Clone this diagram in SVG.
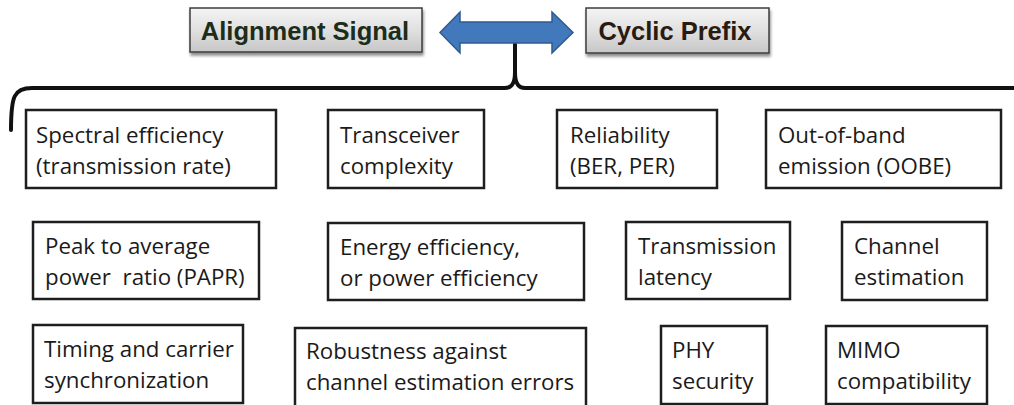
<svg xmlns="http://www.w3.org/2000/svg" width="1014" height="405" viewBox="0 0 1014 405">
  <defs>
    <linearGradient id="btnFill" x1="0" y1="0" x2="0" y2="1">
      <stop offset="0" stop-color="#f4f4f4"/>
      <stop offset="0.55" stop-color="#dedede"/>
      <stop offset="1" stop-color="#c6c6c6"/>
    </linearGradient>
    <filter id="dropShadow" x="-10%" y="-20%" width="125%" height="160%">
      <feGaussianBlur in="SourceAlpha" stdDeviation="1.6"/>
      <feOffset dx="1" dy="3" result="off"/>
      <feComponentTransfer><feFuncA type="linear" slope="0.45"/></feComponentTransfer>
      <feMerge><feMergeNode/><feMergeNode in="SourceGraphic"/></feMerge>
    </filter>
  </defs>
  <style>
    .box { fill: #ffffff; stroke: #1e1e1e; stroke-width: 2.5; }
    .lbl { font-family: "Open Sans", Lato, sans-serif; font-size: 22.3px; fill: #1a1a1a; }
    .btn { fill: url(#btnFill); stroke: #3c3c3c; stroke-width: 1.5; }
    .btnLbl { font-family: "Liberation Sans", Arial, sans-serif; font-weight: bold; font-size: 25.5px; text-anchor: middle; }
    .brace { fill: none; stroke: #111111; stroke-width: 4; stroke-linecap: round; stroke-linejoin: round; }
  </style>

  <rect width="1014" height="405" fill="#ffffff"/>

  <!-- header buttons -->
  <g id="alignment-signal">
    <rect class="btn" x="190" y="8" width="232" height="44" filter="url(#dropShadow)"/>
    <text class="btnLbl" x="305" y="40" fill="#1c2d19">Alignment Signal</text>
  </g>
  <g id="cyclic-prefix">
    <rect class="btn" x="586" y="8" width="183" height="45" filter="url(#dropShadow)"/>
    <text class="btnLbl" x="675" y="40" fill="#2b1a10">Cyclic Prefix</text>
  </g>

  <g id="connectors">
    <!-- brace under the double arrow -->
    <path class="brace" d="M 11,130 C 11,96 14,88 32,88 L 505,88 C 512,88 515,83 515,72 L 515,44"/>
    <path class="brace" d="M 515,72 C 515,83 518,88 525,88 L 1016,88"/>
    <!-- double-headed arrow -->
    <polygon points="440,32.5 460,12 460,22 552,22 552,12 573,32.5 552,53 552,43 460,43 460,53"
             fill="#4279bd" stroke="#2e5a91" stroke-width="1.5" stroke-linejoin="miter"/>
  </g>

  <!-- row 1 -->
  <g id="spectral-efficiency">
    <rect class="box" x="26" y="110" width="250" height="78"/>
    <text class="lbl" x="36" y="143">Spectral efficiency</text>
    <text class="lbl" x="36" y="174">(transmission rate)</text>
  </g>
  <g id="transceiver-complexity">
    <rect class="box" x="328" y="110" width="156" height="78"/>
    <text class="lbl" x="340" y="143">Transceiver</text>
    <text class="lbl" x="340" y="174">complexity</text>
  </g>
  <g id="reliability">
    <rect class="box" x="557" y="110" width="160" height="78"/>
    <text class="lbl" x="570" y="143">Reliability</text>
    <text class="lbl" x="570" y="174">(BER, PER)</text>
  </g>
  <g id="oobe">
    <rect class="box" x="766" y="110" width="235" height="78"/>
    <text class="lbl" x="778" y="143">Out-of-band</text>
    <text class="lbl" x="778" y="174">emission (OOBE)</text>
  </g>

  <!-- row 2 -->
  <g id="papr">
    <rect class="box" x="33" y="222" width="226" height="77"/>
    <text class="lbl" x="45" y="254">Peak to average</text>
    <text class="lbl" x="45" y="285" xml:space="preserve">power  ratio (PAPR)</text>
  </g>
  <g id="energy-efficiency">
    <rect class="box" x="328" y="223" width="256" height="77"/>
    <text class="lbl" x="340" y="255">Energy efficiency,</text>
    <text class="lbl" x="340" y="286">or power efficiency</text>
  </g>
  <g id="transmission-latency">
    <rect class="box" x="626" y="222" width="164" height="77"/>
    <text class="lbl" x="638" y="254">Transmission</text>
    <text class="lbl" x="638" y="285">latency</text>
  </g>
  <g id="channel-estimation">
    <rect class="box" x="842" y="222" width="145" height="78"/>
    <text class="lbl" x="854" y="254">Channel</text>
    <text class="lbl" x="854" y="285">estimation</text>
  </g>

  <!-- row 3 -->
  <g id="synchronization">
    <rect class="box" x="33" y="325" width="210" height="78"/>
    <text class="lbl" x="44" y="357">Timing and carrier</text>
    <text class="lbl" x="44" y="388">synchronization</text>
  </g>
  <g id="robustness">
    <rect class="box" x="295" y="328" width="291" height="84"/>
    <text class="lbl" x="306" y="359">Robustness against</text>
    <text class="lbl" x="306" y="390">channel estimation errors</text>
  </g>
  <g id="phy-security">
    <rect class="box" x="661" y="326" width="106" height="78"/>
    <text class="lbl" x="672" y="358">PHY</text>
    <text class="lbl" x="672" y="389">security</text>
  </g>
  <g id="mimo-compatibility">
    <rect class="box" x="826" y="326" width="161" height="78"/>
    <text class="lbl" x="837" y="358">MIMO</text>
    <text class="lbl" x="837" y="389">compatibility</text>
  </g>
</svg>
